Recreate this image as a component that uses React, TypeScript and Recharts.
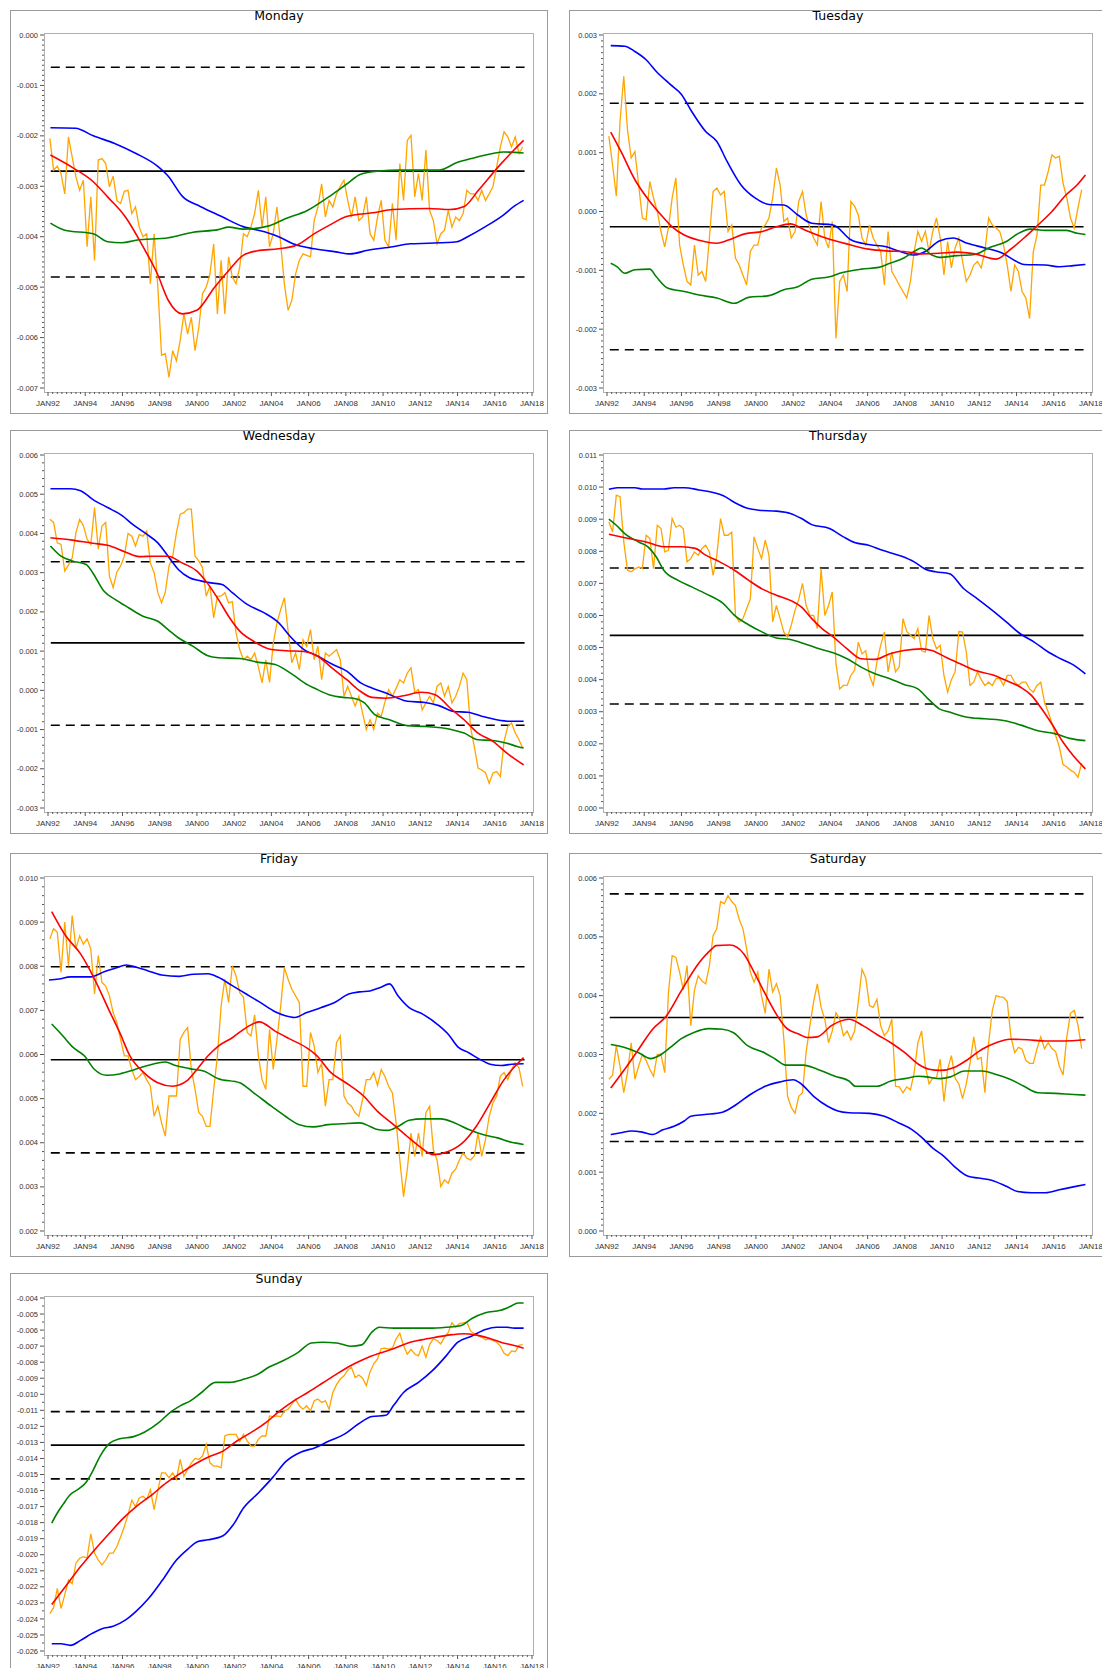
import React from 'react';
import { LineChart, Line, XAxis, YAxis } from 'recharts';

type Pair = [number, number];

// ---------- shared categories ----------
const MAJOR_YEARS = [1992, 1994, 1996, 1998, 2000, 2002, 2004, 2006, 2008, 2010, 2012, 2014, 2016, 2018];
const ORANGE_START = 1992.1; // first observation of the jagged series (decimal year)
const ORANGE_STEP = 0.2;     // spacing of the jagged series (years)
const FLAT_START = 1992.15;
const FLAT_END = 2017.6;
const UNIT = 0.001;          // all values below are in thousandths

// ---------- Monday ----------
const mondayTicks = [0, -1, -2, -3, -4, -5, -6, -7];
const mondayMean = -2.7, mondayUpper = -0.64, mondayLower = -4.8;
const mondayOrange = [
  -2.05, -2.68, -2.6, -2.75, -3.15, -2.02, -2.42, -2.81, -3.08, -2.88,
  -4.2, -3.21, -4.47, -2.48, -2.45, -2.55, -3.01, -2.8, -3.28, -3.34,
  -3.1, -3.08, -3.54, -3.41, -3.81, -4.0, -3.94, -4.93, -3.94, -5.0,
  -6.35, -6.32, -6.79, -6.26, -6.46, -6.06, -5.53, -5.93, -5.6, -6.26,
  -5.8, -5.13, -5.0, -4.74, -4.14, -5.53, -4.47, -5.53, -4.4, -4.8,
  -4.93, -4.6, -3.94, -4.0, -3.81, -3.54, -3.08, -3.81, -3.21, -4.2,
  -3.94, -3.41, -4.14, -4.95, -5.46, -5.26, -4.74, -4.47, -4.34, -4.37,
  -4.4, -3.68, -3.41, -2.95, -3.61, -3.28, -3.41, -3.15, -3.0, -2.88,
  -3.28, -3.61, -3.21, -3.68, -3.61, -3.21, -3.94, -4.07, -3.61, -3.28,
  -4.07, -4.2, -3.34, -4.07, -2.55, -3.28, -2.09, -1.99, -3.21, -2.75,
  -3.28, -2.28, -3.48, -3.68, -4.14, -3.94, -3.87, -3.48, -3.81, -3.61,
  -3.68, -3.54, -3.08, -3.15, -3.15, -3.28, -3.08, -3.28, -3.15, -3.01,
  -2.62, -2.22, -1.92, -2.02, -2.22, -2.02, -2.35, -2.22,
];
const mondayBlue: Pair[] = [
  [1992.13, -1.84], [1993.48, -1.85], [1994.43, -2.0], [1995.58, -2.15], [1996.73, -2.35], [1997.88, -2.6],
  [1998.46, -2.8], [1999.22, -3.2], [2000.18, -3.4], [2001.33, -3.6], [2002.48, -3.8], [2003.63, -3.9],
  [2004.39, -4.0], [2005.16, -4.14], [2006.31, -4.24], [2007.46, -4.3], [2008.23, -4.34], [2009.18, -4.27],
  [2010.52, -4.2], [2011.48, -4.14], [2012.44, -4.13], [2013.97, -4.1], [2014.54, -4.0], [2015.5, -3.8],
  [2016.46, -3.57], [2017.03, -3.4], [2017.55, -3.28],
];
const mondayGreen: Pair[] = [
  [1992.13, -3.73], [1992.9, -3.87], [1994.43, -3.94], [1995.2, -4.1], [1995.97, -4.12], [1996.73, -4.07],
  [1998.46, -4.02], [1999.8, -3.91], [2001.14, -3.86], [2001.71, -3.81], [2002.48, -3.85], [2003.82, -3.79],
  [2004.78, -3.64], [2005.93, -3.48], [2007.08, -3.21], [2008.03, -2.96], [2008.8, -2.76], [2009.76, -2.7],
  [2010.91, -2.68], [2013.01, -2.68], [2013.97, -2.53], [2014.74, -2.45], [2015.89, -2.35], [2016.46, -2.32],
  [2017.55, -2.34],
];
const mondayRed: Pair[] = [
  [1992.13, -2.38], [1993.28, -2.62], [1994.43, -2.91], [1995.2, -3.21], [1996.16, -3.61], [1997.11, -4.2],
  [1997.88, -4.74], [1998.46, -5.26], [1999.22, -5.53], [1999.99, -5.46], [2000.95, -5.0], [2001.71, -4.67],
  [2002.48, -4.37], [2003.25, -4.28], [2004.39, -4.24], [2005.35, -4.17], [2006.31, -3.94], [2007.27, -3.74],
  [2008.03, -3.6], [2009.57, -3.52], [2010.52, -3.46], [2012.44, -3.44], [2013.59, -3.46], [2014.36, -3.4],
  [2015.12, -3.08], [2016.27, -2.58], [2017.03, -2.28], [2017.55, -2.09],
];

// ---------- Tuesday ----------
const tuesdayTicks = [3, 2, 1, 0, -1, -2, -3];
const tuesdayMean = -0.26, tuesdayUpper = 1.84, tuesdayLower = -2.35;
const tuesdayOrange = [
  1.28, 0.79, 0.26, 1.53, 2.3, 1.39, 0.91, 1.02, 0.45, -0.11,
  -0.14, 0.51, 0.23, 0, -0.34, -0.6, -0.28, 0.23, 0.57, -0.57,
  -0.91, -1.19, -1.25, -0.57, -1.08, -1.02, -1.19, -0.45, 0.34, 0.4,
  0.28, 0.34, -0.34, -0.23, -0.79, -0.91, -1.08, -1.25, -0.68, -0.57,
  -0.57, -0.28, -0.23, -0.11, 0.23, 0.74, 0.45, -0.17, -0.11, -0.45,
  -0.34, 0.17, 0.34, -0.06, -0.28, -0.45, -0.57, 0.17, -0.45, -0.62,
  -0.17, -2.16, -1.19, -1.08, -1.36, 0.17, 0.09, -0.06, -0.45, -0.57,
  -0.23, -0.45, -0.57, -0.68, -1.25, -0.34, -1.02, -1.13, -1.25, -1.36,
  -1.47, -1.19, -0.68, -0.34, -0.51, -0.34, -0.68, -0.34, -0.11, -0.45,
  -1.08, -0.51, -0.96, -0.62, -0.45, -0.85, -1.19, -1.08, -0.91, -0.85,
  -0.96, -0.68, -0.11, -0.23, -0.28, -0.34, -0.57, -0.91, -1.36, -0.91,
  -1.02, -1.36, -1.47, -1.82, -0.68, -0.4, 0.45, 0.45, 0.68, 0.96,
  0.91, 0.94, 0.48, 0.23, -0.11, -0.28, 0.06, 0.37,
];
const tuesdayBlue: Pair[] = [
  [1992.2, 2.82], [1992.95, 2.81], [1993.5, 2.72], [1994.1, 2.58], [1994.65, 2.38], [1995.4, 2.16],
  [1996.0, 1.99], [1996.55, 1.7], [1997.3, 1.36], [1997.9, 1.19], [1998.45, 0.85], [1999.2, 0.45],
  [1999.95, 0.23], [2000.7, 0.12], [2001.5, 0.11], [2002.25, -0.06], [2003.0, -0.2], [2004.15, -0.23],
  [2005.1, -0.48], [2006.05, -0.56], [2007.0, -0.6], [2007.75, -0.68], [2008.5, -0.74], [2009.1, -0.68],
  [2009.85, -0.5], [2010.6, -0.45], [2011.35, -0.54], [2012.3, -0.62], [2013.25, -0.71], [2014.0, -0.85],
  [2014.4, -0.9], [2015.55, -0.91], [2016.3, -0.94], [2017.05, -0.92], [2017.7, -0.9],
];
const tuesdayGreen: Pair[] = [
  [1992.2, -0.88], [1992.55, -0.94], [1992.95, -1.05], [1993.5, -0.99], [1994.3, -0.98], [1994.65, -1.11],
  [1995.25, -1.3], [1996.15, -1.36], [1996.95, -1.42], [1997.9, -1.47], [1998.85, -1.56], [1999.6, -1.46],
  [2000.7, -1.43], [2001.5, -1.33], [2002.25, -1.28], [2003.0, -1.15], [2003.95, -1.11], [2004.5, -1.05],
  [2005.65, -0.98], [2006.6, -0.95], [2007.2, -0.88], [2007.95, -0.79], [2008.5, -0.68], [2008.9, -0.62],
  [2009.45, -0.74], [2009.85, -0.78], [2010.8, -0.75], [2011.75, -0.73], [2012.5, -0.62], [2013.45, -0.51],
  [2014.0, -0.39], [2014.75, -0.3], [2015.55, -0.32], [2016.7, -0.32], [2017.25, -0.37], [2017.7, -0.39],
];
const tuesdayRed: Pair[] = [
  [1992.2, 1.35], [1992.75, 1.02], [1993.5, 0.54], [1994.3, 0.17], [1995.05, -0.11], [1995.5, -0.26],
  [1996.15, -0.4], [1996.95, -0.49], [1997.9, -0.54], [1998.65, -0.47], [1999.4, -0.38], [2000.35, -0.34],
  [2001.1, -0.26], [2001.85, -0.21], [2002.6, -0.31], [2003.75, -0.45], [2005.0, -0.56], [2006.05, -0.64],
  [2007.0, -0.67], [2007.95, -0.68], [2008.9, -0.72], [2009.85, -0.71], [2010.8, -0.69], [2011.75, -0.72],
  [2012.9, -0.81], [2013.65, -0.65], [2014.4, -0.45], [2015.15, -0.23], [2015.9, 0], [2016.65, 0.28],
  [2017.25, 0.45], [2017.7, 0.62],
];

// ---------- Wednesday ----------
const wednesdayTicks = [6, 5, 4, 3, 2, 1, 0, -1, -2, -3];
const wednesdayMean = 1.21, wednesdayUpper = 3.28, wednesdayLower = -0.89;
const wednesdayOrange = [
  4.36, 4.28, 3.76, 3.72, 3.04, 3.2, 3.38, 4.02, 4.36, 4.2,
  3.85, 3.72, 4.66, 3.6, 4.19, 4.28, 2.91, 2.62, 3.02, 3.17,
  3.42, 4.0, 3.93, 3.68, 3.97, 3.93, 4.06, 3.25, 3.0, 2.49,
  2.23, 2.5, 3.17, 3.42, 4.02, 4.49, 4.53, 4.62, 4.62, 3.42,
  3.3, 3.13, 2.4, 2.66, 1.85, 2.4, 2.4, 2.49, 2.23, 2.26,
  1.47, 1.04, 0.78, 0.87, 0.78, 0.95, 0.6, 0.19, 0.78, 0.2,
  1.2, 1.72, 2.06, 2.36, 1.5, 0.7, 0.95, 0.53, 1.29, 1.12,
  1.55, 0.78, 1.12, 0.27, 0.95, 0.87, 0.95, 1.04, 0.78, -0.15,
  0.1, -0.15, -0.4, -0.15, -0.58, -1.0, -0.75, -1.0, -0.58, -0.66,
  -0.3, 0.02, -0.15, 0.05, 0.27, 0.19, 0.44, 0.57, -0.05, 0.02,
  -0.5, -0.32, -0.15, -0.32, 0.1, 0.19, -0.15, 0.1, -0.32, -0.15,
  0.1, 0.44, 0.27, -0.95, -1.43, -1.98, -2.03, -2.1, -2.37, -2.11,
  -2.07, -2.2, -1.3, -0.92, -0.83, -1.09, -1.26, -1.47,
];
const wednesdayBlue: Pair[] = [
  [1992.13, 5.14], [1993.2, 5.14], [1993.75, 5.09], [1994.4, 4.87], [1995.2, 4.66], [1996.0, 4.45],
  [1996.55, 4.23], [1997.3, 3.98], [1997.9, 3.76], [1998.45, 3.42], [1999.0, 3.08], [1999.6, 2.87],
  [2000.2, 2.79], [2000.75, 2.74], [2001.35, 2.7], [2001.9, 2.49], [2002.7, 2.19], [2003.6, 1.98],
  [2004.4, 1.72], [2005.0, 1.38], [2005.75, 1.04], [2006.5, 0.87], [2007.25, 0.67], [2008.05, 0.49],
  [2008.8, 0.19], [2009.4, 0.06], [2010.15, -0.07], [2010.7, -0.18], [2011.3, -0.28], [2012.25, -0.31],
  [2013.0, -0.39], [2013.8, -0.54], [2014.55, -0.56], [2015.3, -0.66], [2016.1, -0.75], [2016.85, -0.79],
  [2017.55, -0.79],
];
const wednesdayGreen: Pair[] = [
  [1992.13, 3.68], [1992.7, 3.42], [1993.3, 3.3], [1994.05, 3.21], [1994.4, 3.0], [1995.0, 2.53],
  [1995.6, 2.32], [1996.35, 2.1], [1997.1, 1.89], [1997.9, 1.76], [1998.45, 1.55], [1999.0, 1.34],
  [1999.8, 1.12], [2000.55, 0.89], [2001.15, 0.83], [2002.3, 0.81], [2003.25, 0.72], [2004.2, 0.66],
  [2005.15, 0.4], [2005.95, 0.14], [2006.3, 0.06], [2007.1, -0.11], [2007.85, -0.18], [2008.4, -0.2],
  [2009.0, -0.32], [2009.55, -0.62], [2010.35, -0.75], [2011.3, -0.9], [2012.25, -0.92], [2013.6, -0.99],
  [2014.35, -1.09], [2015.1, -1.26], [2015.9, -1.28], [2016.65, -1.35], [2017.2, -1.43], [2017.55, -1.47],
];
const wednesdayRed: Pair[] = [
  [1992.13, 3.89], [1993.3, 3.83], [1994.4, 3.75], [1995.2, 3.7], [1996.15, 3.53], [1996.9, 3.41],
  [1997.7, 3.42], [1998.45, 3.42], [1999.2, 3.25], [2000.0, 3.04], [2000.55, 2.74], [2001.15, 2.32],
  [2001.7, 1.89], [2002.3, 1.51], [2003.05, 1.25], [2004.0, 1.04], [2004.8, 1.01], [2005.75, 0.99],
  [2006.5, 0.87], [2007.25, 0.57], [2008.05, 0.27], [2008.8, -0.03], [2009.4, -0.18], [2010.15, -0.2],
  [2011.1, -0.14], [2012.05, -0.05], [2012.8, -0.11], [2013.6, -0.45], [2014.35, -0.75], [2015.1, -1.09],
  [2015.9, -1.3], [2016.65, -1.6], [2017.55, -1.9],
];

// ---------- Thursday ----------
const thursdayTicks = [11, 10, 9, 8, 7, 6, 5, 4, 3, 2, 1, 0];
const thursdayMean = 5.38, thursdayUpper = 7.48, thursdayLower = 3.24;
const thursdayOrange = [
  8.92, 8.6, 9.75, 9.7, 8.3, 7.41, 7.36, 7.45, 7.51, 7.46,
  8.5, 8.4, 7.46, 8.81, 8.71, 7.98, 8.03, 9.02, 8.75, 8.81,
  8.7, 7.67, 7.77, 7.98, 7.88, 8.09, 8.19, 7.98, 7.25, 7.88,
  9.02, 8.5, 8.5, 8.6, 6.0, 5.8, 5.9, 6.21, 6.52, 8.45,
  8.09, 7.77, 8.35, 7.88, 5.8, 6.31, 5.9, 5.48, 5.33, 5.7,
  6.16, 6.5, 7.0, 6.31, 6.0, 6.0, 5.59, 7.46, 6.0, 6.31,
  6.73, 4.5, 3.71, 3.82, 3.82, 4.13, 4.3, 5.17, 4.8, 4.9,
  4.13, 3.82, 4.55, 5.07, 5.48, 4.24, 4.86, 4.24, 4.4, 5.9,
  5.5, 5.38, 5.28, 5.59, 4.9, 4.86, 6.0, 5.28, 4.96, 5.07,
  4.13, 3.61, 4.0, 4.24, 5.5, 5.48, 4.86, 3.82, 3.92, 4.24,
  4.0, 3.82, 3.92, 3.82, 4.03, 4.03, 3.82, 4.13, 4.13, 3.92,
  3.82, 3.92, 3.92, 3.71, 3.61, 3.82, 3.92, 3.3, 2.99, 2.65,
  2.26, 1.9, 1.35, 1.28, 1.18, 1.11, 0.96, 1.4,
];
const thursdayBlue: Pair[] = [
  [1992.1, 9.93], [1992.55, 9.98], [1993.5, 9.98], [1993.9, 9.94], [1995.05, 9.94], [1995.6, 9.98],
  [1996.15, 9.98], [1996.95, 9.91], [1997.7, 9.83], [1998.25, 9.73], [1998.85, 9.52], [1999.6, 9.33],
  [2000.15, 9.28], [2001.1, 9.25], [2001.85, 9.18], [2002.45, 9.02], [2003.0, 8.83], [2003.95, 8.71],
  [2004.7, 8.45], [2005.3, 8.27], [2006.05, 8.19], [2006.8, 8.03], [2007.75, 7.86], [2008.5, 7.67],
  [2009.1, 7.44], [2009.65, 7.36], [2010.4, 7.3], [2011.15, 6.84], [2011.9, 6.52], [2012.7, 6.16],
  [2013.45, 5.8], [2014.2, 5.43], [2014.95, 5.17], [2015.7, 4.86], [2016.3, 4.67], [2017.05, 4.46],
  [2017.7, 4.18],
];
const thursdayGreen: Pair[] = [
  [1992.1, 9.0], [1992.5, 8.81], [1992.95, 8.55], [1993.7, 8.29], [1994.2, 8.14], [1994.65, 7.82],
  [1995.05, 7.41], [1995.8, 7.1], [1996.55, 6.89], [1997.3, 6.68], [1998.25, 6.37], [1998.85, 6.0],
  [1999.6, 5.71], [2000.35, 5.48], [2001.1, 5.3], [2001.85, 5.25], [2002.6, 5.12], [2003.4, 4.96],
  [2004.15, 4.84], [2004.9, 4.65], [2005.65, 4.39], [2006.4, 4.18], [2007.2, 4.03], [2007.95, 3.85],
  [2008.7, 3.71], [2009.25, 3.4], [2009.85, 3.09], [2010.4, 2.99], [2011.35, 2.83], [2012.3, 2.78],
  [2013.45, 2.71], [2014.2, 2.59], [2015.15, 2.41], [2016.1, 2.31], [2016.85, 2.17], [2017.7, 2.1],
];
const thursdayRed: Pair[] = [
  [1992.1, 8.53], [1993.15, 8.4], [1994.1, 8.29], [1995.05, 8.14], [1996.0, 8.14], [1996.75, 8.09],
  [1997.3, 7.88], [1998.05, 7.67], [1998.85, 7.41], [1999.6, 7.1], [2000.35, 6.82], [2001.1, 6.63],
  [2001.85, 6.47], [2002.45, 6.26], [2003.0, 5.9], [2003.55, 5.59], [2004.15, 5.33], [2004.9, 4.96],
  [2005.65, 4.65], [2006.4, 4.63], [2007.2, 4.81], [2007.95, 4.91], [2008.9, 4.96], [2009.45, 4.91],
  [2010.2, 4.7], [2010.95, 4.5], [2011.75, 4.29], [2012.7, 4.15], [2013.45, 3.97], [2014.2, 3.77],
  [2014.8, 3.51], [2015.35, 3.09], [2015.95, 2.57], [2016.5, 2.05], [2017.05, 1.63], [2017.7, 1.22],
];

// ---------- Friday ----------
const fridayTicks = [10, 9, 8, 7, 6, 5, 4, 3, 2];
const fridayMean = 5.88, fridayUpper = 7.99, fridayLower = 3.77;
const fridayOrange = [
  8.62, 8.85, 8.77, 7.86, 9.0, 8.0, 9.15, 8.4, 8.69, 8.5,
  8.62, 8.39, 7.37, 8.24, 7.63, 7.55, 7.33, 6.95, 6.72, 6.34,
  5.97, 5.97, 5.66, 5.43, 5.5, 5.59, 5.43, 5.28, 4.6, 4.83,
  4.45, 4.15, 5.06, 5.06, 5.06, 6.34, 6.5, 6.61, 5.66, 5.21,
  4.68, 4.6, 4.37, 4.37, 5.2, 5.97, 7.1, 7.71, 7.18, 8.01,
  7.78, 7.4, 7.3, 6.5, 6.42, 6.9, 5.97, 5.43, 5.21, 6.57,
  5.66, 6.34, 7.1, 7.97, 7.7, 7.48, 7.33, 7.18, 5.28, 5.28,
  6.5, 6.19, 5.59, 5.8, 4.83, 5.43, 5.43, 6.27, 6.42, 5.06,
  4.9, 4.83, 4.68, 4.6, 4.98, 5.43, 5.43, 5.59, 5.3, 5.66,
  5.5, 5.28, 5.13, 4.45, 3.61, 2.78, 3.39, 4.22, 3.69, 4.22,
  3.69, 4.68, 4.83, 3.84, 3.61, 3.01, 3.16, 3.08, 3.31, 3.4,
  3.61, 3.77, 3.65, 3.61, 3.7, 4.22, 3.69, 4.07, 4.6, 4.9,
  5.06, 5.51, 5.59, 5.43, 5.66, 5.81, 5.7, 5.28,
];
const fridayBlue: Pair[] = [
  [1992.05, 7.69], [1992.6, 7.71], [1993.2, 7.76], [1994.3, 7.76], [1995.05, 7.88], [1995.65, 7.96],
  [1996.2, 8.03], [1996.8, 7.97], [1997.35, 7.9], [1998.1, 7.8], [1999.05, 7.77], [1999.8, 7.82],
  [2000.6, 7.83], [2001.15, 7.75], [2001.9, 7.56], [2002.65, 7.37], [2003.4, 7.18], [2004.2, 6.97],
  [2004.75, 6.88], [2005.25, 6.84], [2005.9, 6.95], [2006.65, 7.06], [2007.4, 7.18], [2008.15, 7.37],
  [2008.75, 7.42], [2009.3, 7.44], [2009.85, 7.52], [2010.35, 7.6], [2010.8, 7.33], [2011.4, 7.06],
  [2012.15, 6.91], [2012.9, 6.69], [2013.5, 6.46], [2014.05, 6.16], [2014.6, 6.04], [2015.2, 5.89],
  [2015.75, 5.78], [2016.35, 5.75], [2016.9, 5.78], [2017.55, 5.79],
];
const fridayGreen: Pair[] = [
  [1992.2, 6.69], [1992.8, 6.42], [1993.35, 6.16], [1993.95, 5.97], [1994.5, 5.66], [1995.15, 5.53],
  [1995.85, 5.56], [1996.6, 5.65], [1997.35, 5.75], [1998.3, 5.83], [1998.85, 5.75], [1999.6, 5.68],
  [2000.4, 5.62], [2001.15, 5.45], [2002.3, 5.36], [2003.05, 5.13], [2004.0, 4.83], [2004.75, 4.6],
  [2005.5, 4.41], [2006.25, 4.36], [2007.05, 4.41], [2007.8, 4.43], [2008.75, 4.45], [2009.3, 4.37],
  [2009.7, 4.3], [2010.25, 4.28], [2010.8, 4.37], [2011.4, 4.51], [2012.15, 4.54], [2013.1, 4.54],
  [2013.85, 4.45], [2014.6, 4.3], [2015.4, 4.18], [2016.15, 4.11], [2016.9, 4.01], [2017.3, 3.98],
  [2017.55, 3.96],
];
const fridayRed: Pair[] = [
  [1992.2, 9.24], [1992.95, 8.69], [1993.75, 8.28], [1994.5, 7.71], [1995.25, 7.03], [1995.85, 6.5],
  [1996.4, 5.97], [1997.15, 5.59], [1997.9, 5.36], [1998.7, 5.28], [1999.45, 5.4], [2000.0, 5.66],
  [2000.6, 5.97], [2001.15, 6.19], [2001.9, 6.38], [2002.65, 6.61], [2003.35, 6.74], [2004.2, 6.53],
  [2004.95, 6.36], [2005.9, 6.15], [2006.45, 5.97], [2007.2, 5.59], [2008.0, 5.36], [2008.95, 5.06],
  [2009.7, 4.71], [2010.45, 4.45], [2011.2, 4.18], [2011.95, 3.92], [2012.7, 3.73], [2013.5, 3.8],
  [2014.25, 3.99], [2015.0, 4.37], [2015.75, 4.9], [2016.5, 5.43], [2017.1, 5.74], [2017.55, 5.93],
];

// ---------- Saturday ----------
const saturdayTicks = [6, 5, 4, 3, 2, 1, 0];
const saturdayMean = 3.63, saturdayUpper = 5.73, saturdayLower = 1.52;
const saturdayOrange = [
  2.58, 2.65, 3.15, 2.8, 2.35, 2.69, 3.2, 2.58, 2.8, 3.0,
  2.9, 2.75, 2.63, 3.0, 3.0, 2.69, 4.05, 4.68, 4.65, 4.4,
  4.1, 4.51, 3.49, 4.1, 4.34, 4.25, 4.2, 4.51, 5.02, 5.14,
  5.6, 5.56, 5.7, 5.6, 5.53, 5.3, 5.14, 4.8, 4.4, 4.23,
  4.4, 4.0, 3.7, 4.45, 4.06, 4.2, 4.0, 3.26, 2.29, 2.1,
  2.0, 2.29, 2.35, 3.05, 3.49, 3.9, 4.2, 3.8, 3.6, 3.2,
  3.4, 3.71, 3.6, 3.32, 3.4, 3.25, 3.4, 3.9, 4.45, 4.3,
  3.83, 3.8, 3.94, 3.49, 3.32, 3.4, 3.6, 2.46, 2.45, 2.35,
  2.45, 2.4, 2.69, 3.2, 3.4, 2.8, 2.5, 2.6, 2.6, 2.92,
  2.2, 2.75, 2.98, 2.6, 2.5, 2.25, 2.5, 2.85, 3.3, 2.92,
  2.95, 2.35, 3.2, 3.75, 4.0, 3.98, 3.97, 3.9, 3.3, 3.03,
  3.12, 3.09, 2.9, 2.85, 2.85, 3.1, 3.3, 3.1, 3.2, 3.1,
  3.05, 2.8, 2.65, 3.3, 3.7, 3.75, 3.5, 3.1,
];
const saturdayBlue: Pair[] = [
  [1992.2, 1.64], [1992.75, 1.67], [1993.3, 1.7], [1993.9, 1.68], [1994.45, 1.64], [1995.0, 1.72],
  [1995.6, 1.78], [1996.15, 1.87], [1996.5, 1.95], [1997.25, 1.98], [1998.2, 2.02], [1998.95, 2.15],
  [1999.7, 2.32], [2000.5, 2.46], [2001.25, 2.53], [2002.0, 2.57], [2002.35, 2.52], [2003.1, 2.29],
  [2003.85, 2.12], [2004.4, 2.04], [2005.0, 2.01], [2006.1, 2.0], [2006.9, 1.95], [2007.65, 1.84],
  [2008.4, 1.72], [2008.95, 1.58], [2009.5, 1.41], [2010.1, 1.27], [2010.65, 1.1], [2011.4, 0.93],
  [2011.95, 0.9], [2012.7, 0.86], [2013.45, 0.76], [2014.05, 0.67], [2014.8, 0.65], [2015.55, 0.65],
  [2016.3, 0.7], [2017.05, 0.75], [2017.7, 0.79],
];
const saturdayGreen: Pair[] = [
  [1992.2, 3.17], [1992.95, 3.12], [1993.7, 3.03], [1994.35, 2.93], [1994.8, 2.98], [1995.4, 3.12],
  [1995.95, 3.26], [1996.7, 3.38], [1997.45, 3.44], [1998.2, 3.43], [1998.8, 3.37], [1999.55, 3.15],
  [2000.45, 3.03], [2001.05, 2.92], [2001.6, 2.82], [2002.55, 2.82], [2003.3, 2.75], [2004.25, 2.63],
  [2005.0, 2.55], [2005.35, 2.46], [2006.5, 2.46], [2007.25, 2.55], [2008.0, 2.59], [2008.75, 2.63],
  [2009.15, 2.62], [2009.9, 2.59], [2010.45, 2.62], [2011.2, 2.72], [2012.15, 2.72], [2012.9, 2.66],
  [2013.65, 2.58], [2014.4, 2.46], [2015.15, 2.35], [2016.1, 2.34], [2017.05, 2.32], [2017.7, 2.31],
];
const saturdayRed: Pair[] = [
  [1992.2, 2.43], [1992.95, 2.75], [1993.7, 3.09], [1994.45, 3.43], [1995.2, 3.66], [1995.95, 4.06],
  [1996.9, 4.54], [1997.65, 4.8], [1997.85, 4.85], [1998.6, 4.86], [1999.35, 4.71], [1999.9, 4.4],
  [2000.45, 4.06], [2001.05, 3.71], [2001.6, 3.46], [2002.35, 3.34], [2002.75, 3.29], [2003.3, 3.3],
  [2004.05, 3.49], [2005.0, 3.6], [2005.75, 3.49], [2006.5, 3.34], [2007.25, 3.2], [2008.0, 3.03],
  [2008.75, 2.83], [2009.3, 2.75], [2009.9, 2.73], [2010.65, 2.78], [2011.4, 2.92], [2012.15, 3.09],
  [2012.9, 3.2], [2013.65, 3.26], [2014.6, 3.25], [2015.55, 3.23], [2016.5, 3.23], [2017.7, 3.25],
];

// ---------- Sunday ----------
const sundayTicks = [-4, -5, -6, -7, -8, -9, -10, -11, -12, -13, -14, -15, -16, -17, -18, -19, -20, -21, -22, -23, -24, -25, -26];
const sundayMean = -13.17, sundayUpper = -11.08, sundayLower = -15.27;
const sundayOrange = [
  -23.67, -23.3, -22.1, -23.35, -22.5, -21.58, -21.8, -20.53, -20.22, -20.12,
  -20.2, -18.7, -19.9, -20.33, -20.64, -20.33, -19.9, -19.9, -19.49, -18.9,
  -18.24, -17.5, -16.6, -17.0, -16.46, -16.36, -16.55, -15.94, -17.19, -16.0,
  -14.9, -14.9, -15.2, -14.9, -15.31, -14.06, -15.1, -14.69, -14.27, -14.0,
  -14.06, -13.85, -13.12, -14.27, -14.48, -14.48, -14.58, -12.6, -12.5, -12.5,
  -12.5, -12.95, -12.5, -12.9, -13.23, -13.23, -12.81, -12.6, -12.6, -11.35,
  -11.4, -11.35, -11.4, -11.04, -10.93, -10.62, -10.3, -10.72, -10.93, -10.72,
  -11.04, -10.4, -10.3, -10.51, -10.41, -10.93, -9.89, -9.4, -9.05, -8.85,
  -8.5, -8.32, -8.95, -8.8, -9.0, -9.47, -8.6, -8.1, -7.8, -7.15,
  -7.13, -7.17, -7.13, -6.55, -6.2, -6.96, -7.5, -7.2, -7.49, -7.6,
  -7.0, -7.7, -6.9, -6.55, -6.65, -6.86, -6.44, -6.15, -5.55, -5.82,
  -5.6, -5.55, -5.5, -6.05, -6.23, -6.34, -6.45, -6.6, -6.55, -6.65,
  -6.76, -7.0, -7.45, -7.59, -7.3, -7.35, -6.95, -6.9,
];
const sundayBlue: Pair[] = [
  [1992.2, -25.55], [1992.7, -25.55], [1993.2, -25.65], [1993.75, -25.34], [1994.35, -24.92], [1994.9, -24.61],
  [1995.5, -24.46], [1996.15, -24.08], [1996.7, -23.56], [1997.4, -22.73], [1998.15, -21.58], [1998.9, -20.33],
  [1999.5, -19.66], [2000.05, -19.18], [2000.6, -19.07], [2001.4, -18.82], [2001.95, -18.13], [2002.5, -17.09],
  [2003.3, -16.15], [2004.05, -15.21], [2004.8, -14.17], [2005.6, -13.6], [2006.35, -13.33], [2007.1, -12.91],
  [2007.9, -12.5], [2008.65, -11.87], [2009.4, -11.39], [2010.15, -11.31], [2010.55, -10.72], [2011.1, -9.89],
  [2011.9, -9.26], [2012.65, -8.53], [2013.4, -7.59], [2014.0, -6.76], [2014.75, -6.38], [2015.5, -5.96],
  [2016.1, -5.82], [2016.65, -5.82], [2017.05, -5.88], [2017.55, -5.88],
];
const sundayGreen: Pair[] = [
  [1992.2, -18.03], [1992.5, -17.4], [1992.8, -16.88], [1993.2, -16.25], [1993.65, -15.9], [1994.05, -15.48],
  [1994.4, -14.79], [1994.8, -13.85], [1995.3, -13.06], [1995.85, -12.77], [1996.6, -12.64], [1997.2, -12.35],
  [1997.95, -11.77], [1998.55, -11.14], [1999.1, -10.72], [1999.65, -10.41], [2000.25, -9.89], [2001.0, -9.26],
  [2001.75, -9.26], [2002.55, -9.05], [2003.3, -8.74], [2003.85, -8.32], [2004.65, -7.9], [2005.4, -7.42],
  [2006.15, -6.8], [2006.75, -6.76], [2007.5, -6.8], [2008.25, -7.01], [2008.85, -6.92], [2009.4, -6.13],
  [2009.8, -5.82], [2010.55, -5.88], [2011.7, -5.88], [2012.45, -5.88], [2013.4, -5.82], [2014.2, -5.71],
  [2014.75, -5.29], [2015.5, -4.92], [2016.3, -4.77], [2016.85, -4.52], [2017.25, -4.31], [2017.55, -4.31],
];
const sundayRed: Pair[] = [
  [1992.2, -23.1], [1993.0, -21.89], [1993.75, -20.74], [1994.5, -19.7], [1995.3, -18.66], [1996.05, -17.72],
  [1996.8, -16.94], [1997.6, -16.25], [1998.35, -15.52], [1999.1, -14.94], [1999.85, -14.38], [2000.65, -13.9],
  [2001.4, -13.54], [2002.15, -12.91], [2002.9, -12.39], [2003.7, -11.77], [2004.45, -11.04], [2005.2, -10.41],
  [2005.95, -9.89], [2006.75, -9.3], [2007.5, -8.74], [2008.25, -8.22], [2009.0, -7.8], [2009.8, -7.45],
  [2010.55, -7.17], [2011.3, -6.82], [2012.05, -6.61], [2012.85, -6.44], [2013.6, -6.3], [2014.35, -6.23],
  [2014.95, -6.3], [2015.7, -6.51], [2016.45, -6.8], [2017.05, -6.96], [2017.55, -7.13],
];

// ---------- layout ----------
const W = 538;
const H = 404;
const M_TOP = 23;
const M_RIGHT = 15;
const X_AXIS_H = 22;
const Y_AXIS_W = 34;
const PLOT_W = W - Y_AXIS_W - M_RIGHT;
const PLOT_H = H - M_TOP - X_AXIS_H;
const YEARS_SPAN = 26;
const PX_PER_YEAR = (PLOT_W - 5) / YEARS_SPAN;
const X_DOMAIN: [number, number] = [1992 - 4 / PX_PER_YEAR, 2018 + 1 / PX_PER_YEAR];

const COLORS = {
  orange: '#ffa500',
  blue: '#0000ff',
  green: '#008000',
  red: '#ff0000',
  black: '#000000',
  frame: '#9a9a9a',
  plotBorder: '#b0b0b0',
  tick: '#555555',
  label: '#333333',
};
const TICK_FONT = '"Liberation Sans", Arial, sans-serif';

const X_TICKS: number[] = (() => {
  const out: number[] = [];
  for (let i = 0; i < MAJOR_YEARS.length - 1; i++) {
    for (let q = 0; q < 8; q++) out.push(Math.round((MAJOR_YEARS[i] + q * 0.25) * 100) / 100);
  }
  out.push(MAJOR_YEARS[MAJOR_YEARS.length - 1]);
  return out;
})();

const isMajorYear = (v: number) => MAJOR_YEARS.some((y) => Math.abs(y - v) < 1e-6);

const renderXTick = (props: any) => {
  const { x, y, payload } = props;
  const v = payload.value as number;
  const major = isMajorYear(v);
  return (
    <g>
      <line x1={x} x2={x} y1={y} y2={y + (major ? 4 : 2)} stroke={COLORS.tick} strokeWidth={1} />
      {major && (
        <text x={x} y={y + 14} textAnchor="middle" fontSize={8} fontFamily={TICK_FONT} fill={COLORS.label}>
          {'JAN' + String(Math.round(v)).slice(2)}
        </text>
      )}
    </g>
  );
};

const makeYTick = (majors: number[]) => (props: any) => {
  const { x, y, payload } = props;
  const v = payload.value as number;
  const k = v / UNIT;
  const major = majors.some((m) => Math.abs(m - k) < 1e-6);
  const label = Math.abs(v) < 1e-12 ? '0.000' : v.toFixed(3);
  return (
    <g>
      <line x1={x} x2={x - (major ? 4 : 2)} y1={y} y2={y} stroke={COLORS.tick} strokeWidth={1} />
      {major && (
        <text x={x - 6} y={y + 2.6} textAnchor="end" fontSize={7.5} fontFamily={TICK_FONT} fill={COLORS.label}>
          {label}
        </text>
      )}
    </g>
  );
};

type PanelProps = {
  title: string;
  left: number;
  top: number;
  ticks: number[];
  minor: number;
  mean: number;
  upper: number;
  lower: number;
  orange: number[];
  blue: Pair[];
  green: Pair[];
  red: Pair[];
};

const pairsToRows = (pairs: Pair[]) => pairs.map(([x, v]) => ({ x, y: v * UNIT }));
const flatRows = (v: number) => [
  { x: FLAT_START, y: v * UNIT },
  { x: FLAT_END, y: v * UNIT },
];

function Panel(p: PanelProps) {
  const hi = Math.max(...p.ticks);
  const lo = Math.min(...p.ticks);
  const span = (hi - lo) * UNIT;
  const tickSpanPx = PLOT_H - 6;
  const domain: [number, number] = [lo * UNIT - (span * 4) / tickSpanPx, hi * UNIT + (span * 2) / tickSpanPx];
  const yTicks: number[] = [];
  const steps = Math.round((hi - lo) / p.minor);
  for (let i = 0; i <= steps; i++) yTicks.push(Math.round((lo + i * p.minor) * 10000) / 10000 * UNIT);

  const orangeRows = p.orange.map((v, i) => ({ x: Math.round((ORANGE_START + i * ORANGE_STEP) * 100) / 100, y: v * UNIT }));

  return (
    <div style={{ position: 'absolute', left: p.left, top: p.top, width: W, height: H }}>
      <div
        style={{
          position: 'absolute', left: 0, top: 0, width: W, height: H, boxSizing: 'border-box',
          border: `1px solid ${COLORS.frame}`,
        }}
      />
      <div
        style={{
          position: 'absolute', left: 0, top: -1, width: W, textAlign: 'center',
          fontFamily: '"DejaVu Sans", Verdana, sans-serif', fontSize: 12.5, lineHeight: '14px', color: '#000',
        }}
      >
        {p.title}
      </div>
      <div
        style={{
          position: 'absolute', left: Y_AXIS_W, top: M_TOP, width: PLOT_W + 1, height: PLOT_H + 1,
          boxSizing: 'border-box', border: `1px solid ${COLORS.plotBorder}`,
        }}
      />
      <div style={{ position: 'absolute', left: 0, top: 0 }}>
        <LineChart width={W} height={H} margin={{ top: M_TOP, right: M_RIGHT, bottom: 0, left: 0 }}>
          <XAxis
            xAxisId="x"
            dataKey="x"
            type="number"
            domain={X_DOMAIN}
            allowDataOverflow
            ticks={X_TICKS}
            interval={0}
            tickSize={0}
            tickMargin={0}
            tickLine={false}
            axisLine={false}
            tick={renderXTick}
            height={X_AXIS_H}
          />
          <YAxis
            yAxisId="y"
            type="number"
            domain={domain}
            allowDataOverflow
            ticks={yTicks}
            interval={0}
            tickSize={0}
            tickMargin={0}
            tickLine={false}
            axisLine={false}
            tick={makeYTick(p.ticks)}
            width={Y_AXIS_W}
          />
          <Line xAxisId="x" yAxisId="y" data={flatRows(p.upper)} dataKey="y" stroke={COLORS.black} strokeWidth={1.6} strokeDasharray="9 6" dot={false} isAnimationActive={false} />
          <Line xAxisId="x" yAxisId="y" data={flatRows(p.lower)} dataKey="y" stroke={COLORS.black} strokeWidth={1.6} strokeDasharray="9 6" dot={false} isAnimationActive={false} />
          <Line xAxisId="x" yAxisId="y" data={flatRows(p.mean)} dataKey="y" stroke={COLORS.black} strokeWidth={1.6} dot={false} isAnimationActive={false} />
          <Line xAxisId="x" yAxisId="y" data={orangeRows} dataKey="y" type="linear" stroke={COLORS.orange} strokeWidth={1.3} dot={false} isAnimationActive={false} />
          <Line xAxisId="x" yAxisId="y" data={pairsToRows(p.blue)} dataKey="y" type="monotone" stroke={COLORS.blue} strokeWidth={1.6} dot={false} isAnimationActive={false} />
          <Line xAxisId="x" yAxisId="y" data={pairsToRows(p.green)} dataKey="y" type="monotone" stroke={COLORS.green} strokeWidth={1.6} dot={false} isAnimationActive={false} />
          <Line xAxisId="x" yAxisId="y" data={pairsToRows(p.red)} dataKey="y" type="monotone" stroke={COLORS.red} strokeWidth={1.6} dot={false} isAnimationActive={false} />
        </LineChart>
      </div>
    </div>
  );
}

const PANELS: PanelProps[] = [
  { title: 'Monday', left: 10, top: 10, ticks: mondayTicks, minor: 0.1, mean: mondayMean, upper: mondayUpper, lower: mondayLower, orange: mondayOrange, blue: mondayBlue, green: mondayGreen, red: mondayRed },
  { title: 'Tuesday', left: 569, top: 10, ticks: tuesdayTicks, minor: 0.1, mean: tuesdayMean, upper: tuesdayUpper, lower: tuesdayLower, orange: tuesdayOrange, blue: tuesdayBlue, green: tuesdayGreen, red: tuesdayRed },
  { title: 'Wednesday', left: 10, top: 430, ticks: wednesdayTicks, minor: 0.2, mean: wednesdayMean, upper: wednesdayUpper, lower: wednesdayLower, orange: wednesdayOrange, blue: wednesdayBlue, green: wednesdayGreen, red: wednesdayRed },
  { title: 'Thursday', left: 569, top: 430, ticks: thursdayTicks, minor: 0.2, mean: thursdayMean, upper: thursdayUpper, lower: thursdayLower, orange: thursdayOrange, blue: thursdayBlue, green: thursdayGreen, red: thursdayRed },
  { title: 'Friday', left: 10, top: 853, ticks: fridayTicks, minor: 0.2, mean: fridayMean, upper: fridayUpper, lower: fridayLower, orange: fridayOrange, blue: fridayBlue, green: fridayGreen, red: fridayRed },
  { title: 'Saturday', left: 569, top: 853, ticks: saturdayTicks, minor: 0.1, mean: saturdayMean, upper: saturdayUpper, lower: saturdayLower, orange: saturdayOrange, blue: saturdayBlue, green: saturdayGreen, red: saturdayRed },
  { title: 'Sunday', left: 10, top: 1273, ticks: sundayTicks, minor: 0.5, mean: sundayMean, upper: sundayUpper, lower: sundayLower, orange: sundayOrange, blue: sundayBlue, green: sundayGreen, red: sundayRed },
];

export default function App() {
  return (
    <div
      style={{
        position: 'fixed', left: 0, top: 0, width: 1102, height: 1668, overflow: 'hidden', background: '#ffffff',
      }}
    >
      {PANELS.map((p) => (
        <Panel key={p.title} {...p} />
      ))}
    </div>
  );
}
